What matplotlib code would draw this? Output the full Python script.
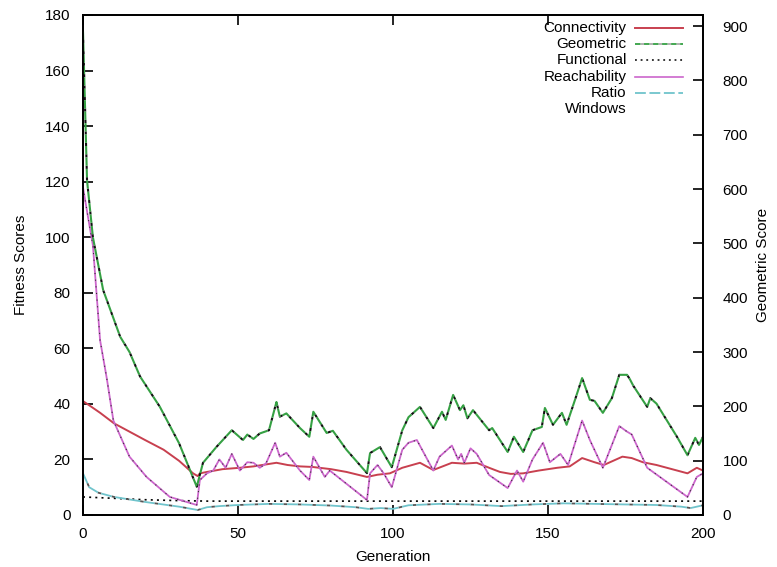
import matplotlib
matplotlib.use("Agg")
import matplotlib.pyplot as plt
from matplotlib.lines import Line2D

plt.rcParams['font.family'] = ['Liberation Sans', 'DejaVu Sans']

# ---------------- data ----------------
conn_gen = [0, 2, 5.5, 10, 15, 20, 26, 31, 35.5, 37, 37.7, 40, 45, 50.6, 55, 62.4, 66, 70, 74, 80, 85,
            91.6, 95, 99, 103, 108.7, 113, 119, 123, 127, 131, 134.5, 138, 142, 147, 153, 157, 161,
            165, 168, 174, 177, 180.6, 185, 190, 195, 198, 200]
conn_val = [41, 39.5, 36.8, 33, 30, 27, 23.5, 19.5, 15, 14, 15, 15.5, 16.5, 17, 17.5, 18.8, 18, 17.5,
            17.3, 16.5, 15.5, 13.7, 14.5, 15, 17, 18.8, 16.2, 18.8, 18.5, 18.8, 17, 15.5, 14.8, 15, 16,
            17, 17.5, 20.5, 19, 18, 21, 20.5, 19, 18, 16.5, 15, 17, 16]

geo_gen = [0, 1.3, 3.2, 6.5, 12, 15, 18.4, 24.8, 31, 36.7, 38.7, 43, 48, 51.6, 53, 55, 57, 60, 62.4,
           63.5, 65.6, 70, 73, 74.3, 78.6, 80.6, 85, 91.6, 92.6, 95.8, 99.6, 103, 105, 108.7, 113,
           115.8, 117, 119.4, 121.6, 122.7, 124, 125.8, 131, 132, 137, 139, 142, 145, 148, 149,
           151.6, 154.5, 156, 159, 161, 163.5, 165, 167.7, 170.6, 173, 175.5, 176.4, 177.5, 182,
           183, 185, 191.6, 195, 197.5, 198.7, 200]
geo_val = [890, 616, 511, 414, 328, 300, 255, 199, 132, 52, 96, 125, 156, 138, 148, 140, 150, 156, 208,
           181, 187, 160, 144, 190, 151, 155, 120, 77, 114, 125, 88, 156, 180, 199, 160,
           190, 175, 221, 193, 202, 178, 193, 156, 160, 116, 144, 116, 156, 162, 197,
           166, 188, 166, 217, 252, 212, 210, 188, 215, 258, 258, 250, 238, 199,
           215, 205, 144, 110, 142, 129, 144]

func_gen = [0, 10, 20, 30, 40, 100, 150, 200]
func_val = [6.5, 6.0, 5.5, 5.2, 5.0, 5.0, 5.0, 5.0]

reach_gen = [0, 1.5, 3.2, 5.5, 7.7, 9.8, 15, 20.5, 28, 36.7, 37.7, 40, 42, 44, 46, 48, 50.6, 53, 55,
             57, 59, 62, 63.5, 65.6, 70, 73, 74.3, 78, 79.6, 91.6, 92.6, 95, 97, 99.6, 103, 105,
             107.7, 113, 115, 119, 121, 122, 123, 125, 127, 131, 137, 140, 142, 145, 148.4, 150.6,
             154, 156.5, 161, 163.5, 167.7, 173, 175.5, 177, 182, 195, 198, 200]
reach_val = [118, 108, 97, 63, 49, 34, 21, 13.7, 6.5, 3.6, 12.6, 15, 16, 20, 17, 22, 16, 19, 18.8,
             17, 18.5, 26, 21, 22.4, 16, 12.6, 21, 13.7, 16, 5.4, 15, 18, 15, 10, 23.5, 26,
             27, 16, 21, 25, 20, 22, 18.8, 24, 22, 14.4, 9.7, 16, 12, 20, 26, 19,
             22, 18, 34, 27, 17, 32, 30, 29, 17, 6.5, 13.7, 15]

ratio_gen = [0, 2, 5, 10, 20, 31, 37, 40, 44, 50, 60, 70, 80, 88, 92, 96, 100, 105, 115, 125, 135,
             145, 155, 165, 175, 185, 193, 196, 200]
ratio_val = [15, 10, 8, 6.5, 4.7, 3, 1.8, 2.8, 3.2, 3.6, 4, 3.8, 3.4, 2.8, 2.2, 2.5, 2.2, 3.5, 4, 3.8,
             3.2, 3.8, 4.2, 4, 3.8, 3.6, 3, 2.5, 3.5]

legend_labels = ["Connectivity", "Geometric", "Functional", "Reachability", "Ratio", "Windows"]
left_ticks = [0, 20, 40, 60, 80, 100, 120, 140, 160, 180]
right_ticks = [0, 100, 200, 300, 400, 500, 600, 700, 800, 900]
x_ticks = [0, 50, 100, 150, 200]

# ---------------- figure ----------------
fig = plt.figure(figsize=(7.77, 5.67), dpi=100)
ax = fig.add_axes([83/777, 1-515/567, 620/777, 500/567])
ax2 = ax.twinx()

c_conn = '#c8404f'
c_geo = '#35a043'
c_reach = '#cc66cc'
c_ratio = '#70c4cc'

ax.plot(conn_gen, conn_val, color=c_conn, lw=1.4)
ax.plot(func_gen, func_val, color='black', lw=1.2, ls=(0, (1.2, 2.5)))
ax.plot(reach_gen, reach_val, color=c_reach, lw=1.3)
ax.plot(reach_gen, reach_val, color='#333333', lw=0.8, ls=(0, (1, 5)))
ax.plot(ratio_gen, ratio_val, color=c_ratio, lw=1.3, ls=(0, (6, 2)), gapcolor='#555555')

ax2.plot(geo_gen, geo_val, color=c_geo, lw=1.5, ls=(0, (4, 1.5)), gapcolor='#111111')

ax.set_xlim(0, 200)
ax.set_ylim(0, 180)
ax2.set_ylim(0, 500 / (489 / 900))

ax.set_xticks(x_ticks)
ax.set_yticks(left_ticks)
ax2.set_yticks(right_ticks)

ax.tick_params(axis='both', direction='in', length=7, width=1.2, labelsize=11, top=True, right=False)
ax.tick_params(axis='y', pad=9)
ax.tick_params(axis='x', pad=9)
ax2.tick_params(axis='y', direction='in', length=7, width=1.2, labelsize=11, pad=14)

for a in (ax, ax2):
    for s in a.spines.values():
        s.set_linewidth(1.3)

ax.set_xlabel("Generation", fontsize=11, labelpad=6)
ax.set_ylabel("Fitness Scores", fontsize=11, labelpad=12)
ax2.set_ylabel("Geometric Score", fontsize=11, labelpad=6)

# ---------------- legend (gnuplot style) ----------------
rows_y = [0.974, 0.942, 0.910, 0.876, 0.844, 0.812]
handles = [
    dict(color=c_conn, lw=1.4),
    dict(color=c_geo, lw=1.3, ls=(0, (3, 2)), gapcolor='#aaaaaa'),
    dict(color='black', lw=1.1, ls=(0, (1.2, 2.5))),
    dict(color=c_reach, lw=1.2),
    dict(color=c_ratio, lw=1.3, ls=(0, (6, 2))),
    None,
]
for lab, yy, h in zip(legend_labels, rows_y, handles):
    ax2.text(0.877, yy, lab, transform=ax2.transAxes, ha='right', va='center', fontsize=11)
    if h is not None:
        ax2.add_line(Line2D([0.890, 0.968], [yy, yy], transform=ax2.transAxes, **h))

fig.savefig("out.png", dpi=100)
